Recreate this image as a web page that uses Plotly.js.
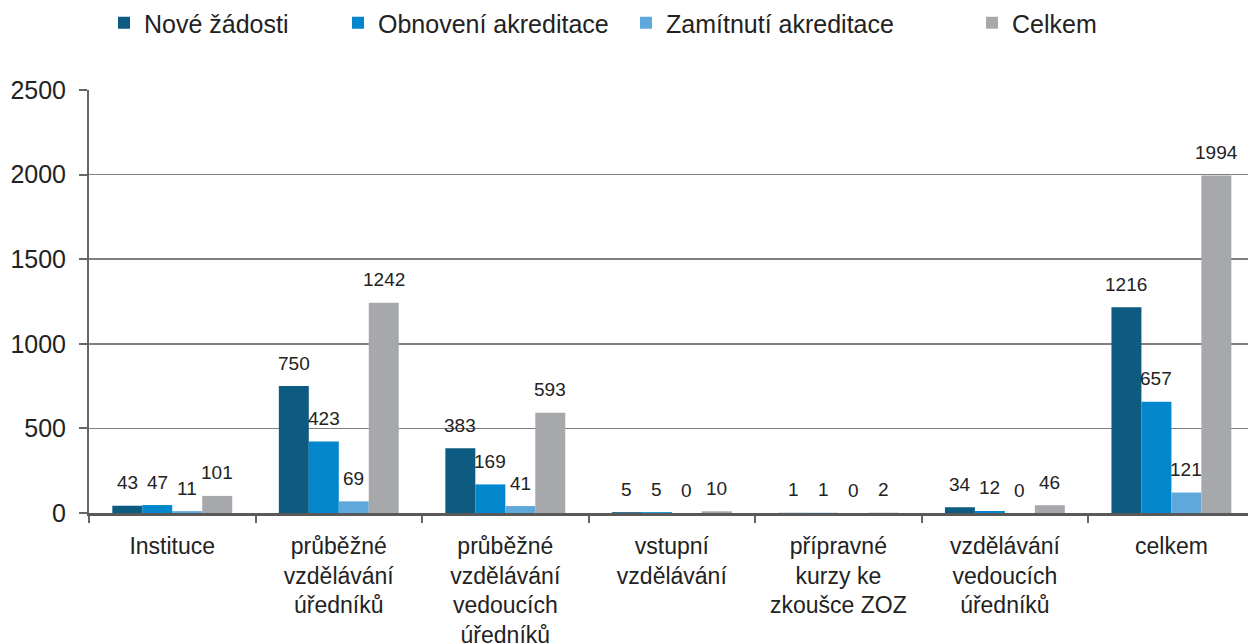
<!DOCTYPE html>
<html>
<head>
<meta charset="utf-8">
<script src="https://cdn.plot.ly/plotly-3.0.1.min.js"></script>
<style>html,body{margin:0;padding:0;background:#fff;}#chart{width:1248px;height:644px;}</style>
</head>
<body>
<div id="chart"></div>
<script>
const categories = [
  "Instituce",
  "průběžné<br>vzdělávání<br>úředníků",
  "průběžné<br>vzdělávání<br>vedoucích<br>úředníků",
  "vstupní<br>vzdělávání",
  "přípravné<br>kurzy ke<br>zkoušce ZOZ",
  "vzdělávání<br>vedoucích<br>úředníků",
  "celkem"
];
const seriesNames = ["Nové žádosti", "Obnovení akreditace", "Zamítnutí akreditace", "Celkem"];
const noveZadosti = [43, 750, 383, 5, 1, 34, 1216];
const obnoveni = [47, 423, 169, 5, 1, 12, 657];
const zamitnuti = [11, 69, 41, 0, 0, 0, 121];
const celkem = [101, 1242, 593, 10, 2, 46, 1994];
const yTicks = [0, 500, 1000, 1500, 2000, 2500];

const seriesValues = [noveZadosti, obnoveni, zamitnuti, celkem];
const colors = ["#0d5b80", "#0287cc", "#5fa8dc", "#a7a8ab"];
const legendIds = ["legend", "legend2", "legend3", "legend4"];
const legendX = [104, 338, 626, 972];

const FONT = "Liberation Sans, Arial, sans-serif";
const traces = seriesValues.map((vals, i) => ({
  type: "bar",
  name: seriesNames[i],
  x: categories,
  y: vals,
  marker: {color: colors[i], line: {width: 0}},
  legend: legendIds[i],
  hoverinfo: "none"
}));

const annotations = [];
seriesValues.forEach((vals, i) => {
  vals.forEach((v, j) => {
    annotations.push({
      x: categories[j], y: v, xref: "x", yref: "y",
      text: String(v), showarrow: false,
      xshift: (i - 1.5) * 30, yshift: 23, yanchor: "middle",
      font: {family: FONT, size: 19, color: "#222"}
    });
  });
});

const layout = {
  width: 1248, height: 644,
  margin: {l: 89, r: 0, t: 90, b: 131},
  paper_bgcolor: "#fff", plot_bgcolor: "#fff",
  font: {family: FONT, color: "#222"},
  barmode: "group",
  bargap: 0.28,
  bargroupgap: 0,
  xaxis: {
    type: "category",
    range: [-0.5, 6.46],
    tickson: "boundaries",
    ticks: "outside", ticklen: 7, tickwidth: 2, tickcolor: "#666",
    showline: true, linecolor: "#595959", linewidth: 3,
    showgrid: false,
    tickfont: {family: FONT, size: 23, color: "#222"},
    ticklabelstandoff: 10
  },
  yaxis: {
    range: [0, 2500],
    tickvals: yTicks,
    ticktext: yTicks.map(String),
    ticks: "outside", ticklen: 8, tickwidth: 2, tickcolor: "#666",
    showline: true, linecolor: "#666", linewidth: 2,
    showgrid: true, gridcolor: "#7f7f7f", gridwidth: 1.5,
    zeroline: false,
    tickfont: {family: FONT, size: 25, color: "#222"},
    ticklabelstandoff: 8
  },
  annotations: annotations,
  showlegend: true
};
legendIds.forEach((id, i) => {
  layout[id] = {
    xref: "container", yref: "container",
    x: legendX[i] / 1248, y: 1,
    xanchor: "left", yanchor: "top",
    orientation: "h",
    font: {family: FONT, size: 25, color: "#222"},
    bgcolor: "rgba(0,0,0,0)",
    itemwidth: 30
  };
});

Plotly.newPlot("chart", traces, layout, {staticPlot: true});
</script>
</body>
</html>
